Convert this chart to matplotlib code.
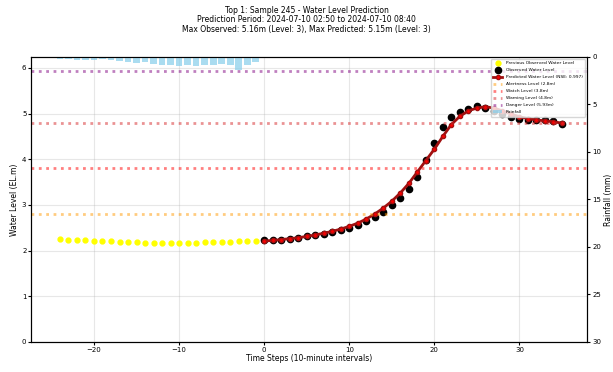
import matplotlib
matplotlib.use("Agg")
import matplotlib.pyplot as plt
import numpy as np

# Time steps (10-minute intervals)
prevSteps = list(range(-24, 0))
futureSteps = list(range(0, 36))

# Previous observed water level (EL.m)
prevLevel = [2.25, 2.24, 2.23, 2.22, 2.21, 2.20, 2.20, 2.19, 2.18, 2.18, 2.17, 2.17,
             2.17, 2.17, 2.17, 2.17, 2.17, 2.18, 2.18, 2.19, 2.19, 2.20, 2.20, 2.21]

# Observed water level during prediction period
obsLevel = [2.22, 2.23, 2.24, 2.26, 2.28, 2.31, 2.34, 2.37, 2.40, 2.44, 2.49, 2.56,
            2.64, 2.74, 2.85, 3.00, 3.15, 3.35, 3.60, 3.98, 4.35, 4.70, 4.92, 5.04,
            5.11, 5.16, 5.12, 5.05, 4.98, 4.92, 4.88, 4.86, 4.86, 4.85, 4.83, 4.77]

# Predicted water level
predLevel = [2.21, 2.22, 2.24, 2.26, 2.28, 2.31, 2.34, 2.38, 2.42, 2.47, 2.53, 2.60,
             2.69, 2.80, 2.93, 3.08, 3.26, 3.47, 3.72, 3.97, 4.22, 4.50, 4.76, 4.94,
             5.06, 5.12, 5.15, 5.12, 5.06, 4.99, 4.93, 4.89, 4.86, 4.84, 4.82, 4.79]

# Rainfall (mm) for previous steps
rainfall = [0.2, 0.2, 0.3, 0.3, 0.3, 0.2, 0.3, 0.4, 0.5, 0.6, 0.5, 0.7,
            0.9, 0.8, 1.0, 0.9, 1.0, 0.8, 0.9, 0.7, 0.8, 1.4, 0.9, 0.5]

# Flood warning thresholds
levelNames = ["Alertness Level (2.8m)", "Watch Level (3.8m)", "Warning Level (4.8m)", "Danger Level (5.93m)"]
levelValues = [2.8, 3.8, 4.8, 5.93]
levelColors = ["#ff9900", "red", "#d62728", "purple"]

fig = plt.figure(figsize=(6.13, 3.72), dpi=100)
ax = fig.add_axes([0.051, 0.081, 0.907, 0.766])

ax.plot(prevSteps, prevLevel, linestyle="none", marker="o", markersize=3.5, color="yellow", label="Previous Observed Water Level")
ax.plot(futureSteps, obsLevel, linestyle="none", marker="o", markersize=4.5, color="black", label="Observed Water Level")
ax.plot(futureSteps, predLevel, color="#a01010", linewidth=2, marker="o", markersize=3,
        markerfacecolor="red", markeredgecolor="#a01010", label="Predicted Water Level (NSE: 0.997)")

for name, val, col in zip(levelNames, levelValues, levelColors):
    ax.axhline(val, color=col, linestyle=":", linewidth=2, alpha=0.5, label=name)

ax.set_ylim(0, 6.24)
ax.set_xlabel("Time Steps (10-minute intervals)", fontsize=5.5, labelpad=1)
ax.set_ylabel("Water Level (EL.m)", fontsize=5.5, labelpad=2)
ax.tick_params(labelsize=5, length=2, pad=1.5)
ax.grid(True, alpha=0.3)

# Rainfall on inverted secondary axis
ax2 = ax.twinx()
ax2.bar(prevSteps, rainfall, width=0.8, color="skyblue", alpha=0.7, label="Rainfall")
ax2.set_ylim(30, 0)
ax2.set_ylabel("Rainfall (mm)", fontsize=5.5, labelpad=2)
ax2.tick_params(labelsize=5, length=2, pad=1.5)

h1, l1 = ax.get_legend_handles_labels()
h2, l2 = ax2.get_legend_handles_labels()
ax2.legend(h1 + h2, l1 + l2, loc="upper right", fontsize=3.2, framealpha=0.8,
           borderpad=0.5, labelspacing=0.65, handlelength=2)

fig.suptitle("Top 1: Sample 245 - Water Level Prediction\n"
             "Prediction Period: 2024-07-10 02:50 to 2024-07-10 08:40\n"
             "Max Observed: 5.16m (Level: 3), Max Predicted: 5.15m (Level: 3)",
             fontsize=5.5, y=0.985, linespacing=1.1)

fig.savefig("out.png", dpi=100)
